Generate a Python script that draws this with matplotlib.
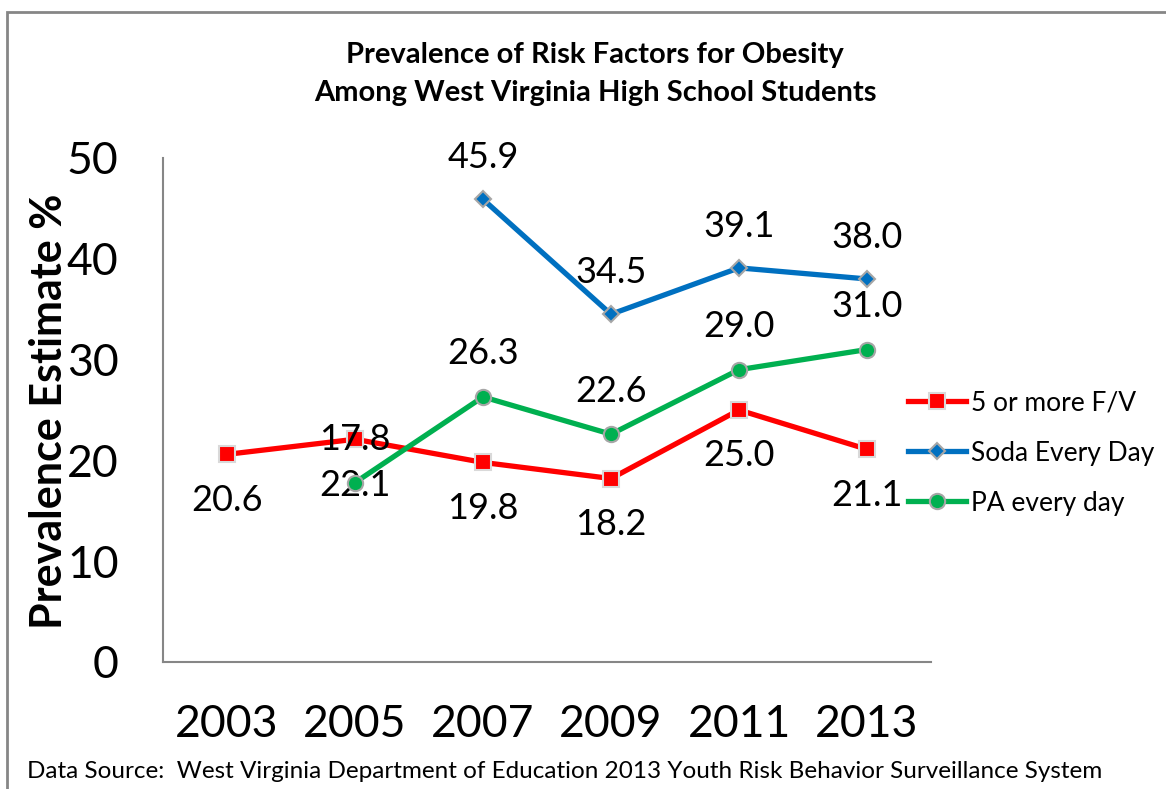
import matplotlib
matplotlib.use('Agg')
import matplotlib.pyplot as plt
import matplotlib.patches as patches

plt.rcParams['font.family'] = ['Lato', 'DejaVu Sans']

# data
years = ['2003', '2005', '2007', '2009', '2011', '2013']
fv = [20.6, 22.1, 19.8, 18.2, 25.0, 21.1]
soda = [None, None, 45.9, 34.5, 39.1, 38.0]
pa = [None, 17.8, 26.3, 22.6, 29.0, 31.0]

fig = plt.figure(figsize=(11.66, 7.89), dpi=100)
ax = fig.add_axes([163/1166, 1-662/789, (931-163)/1166, (662-158)/789])

x = list(range(len(years)))

def pts(vals):
    xs = [i for i, v in zip(x, vals) if v is not None]
    ys = [v for v in vals if v is not None]
    return xs, ys

xs, ys = pts(fv)
ax.plot(xs, ys, color='#FF0000', lw=3.8, marker='s', ms=11,
        markerfacecolor='#FF0000', markeredgecolor='#D9D9D9', mew=1.5,
        label='5 or more F/V', zorder=3)
for a, b in zip(xs, ys):
    ax.annotate('%.1f' % b, (a, b), xytext=(0, -33), textcoords='offset points',
                ha='center', va='center', fontsize=26)

xs, ys = pts(soda)
ax.plot(xs, ys, color='#0070C0', lw=3.8, marker='D', ms=8,
        markerfacecolor='#0070C0', markeredgecolor='#A6A6A6', mew=1.5,
        label='Soda Every Day', zorder=3)
for a, b in zip(xs, ys):
    ax.annotate('%.1f' % b, (a, b), xytext=(0, 30), textcoords='offset points',
                ha='center', va='center', fontsize=26)

xs, ys = pts(pa)
ax.plot(xs, ys, color='#00B050', lw=3.8, marker='o', ms=11,
        markerfacecolor='#00B050', markeredgecolor='#A6A6A6', mew=1.5,
        label='PA every day', zorder=3)
for a, b in zip(xs, ys):
    ax.annotate('%.1f' % b, (a, b), xytext=(0, 31), textcoords='offset points',
                ha='center', va='center', fontsize=26)

ax.set_xlim(-0.5, 5.5)
ax.set_ylim(0, 50)
ax.set_xticks(x)
ax.set_xticklabels(years, fontsize=32)
ax.set_yticks([0, 10, 20, 30, 40, 50])
ax.tick_params(axis='x', length=0, pad=30)
ax.tick_params(axis='y', length=0, labelsize=32, pad=32)
for s in ['top', 'right']:
    ax.spines[s].set_visible(False)
for s in ['left', 'bottom']:
    ax.spines[s].set_color('#868686')
    ax.spines[s].set_linewidth(1.5)

fig.text(49/1166, 1-411/789, 'Prevalence Estimate %', rotation=90, ha='center',
         va='center', fontsize=31, fontweight='bold')

fig.text(595/1166, 1-55/789, 'Prevalence of Risk Factors for Obesity',
         ha='center', va='center', fontsize=21, fontweight='bold')
fig.text(595/1166, 1-93/789, 'Among West Virginia High School Students',
         ha='center', va='center', fontsize=21, fontweight='bold')

fig.text(27/1166, 1-772/789,
         'Data Source:  West Virginia Department of Education 2013 Youth Risk Behavior Surveillance System',
         ha='left', va='center', fontsize=17.5)

fig.legend(loc='center left', bbox_to_anchor=(884/1166, 1-453/789), frameon=False,
           fontsize=19, handlelength=2.2, labelspacing=0.95, handletextpad=0.2)

frame = patches.Rectangle((7/1166, -0.1), 1.2, 1.1-12/789, transform=fig.transFigure,
                          fill=False, edgecolor='#868686', lw=2, clip_on=False)
fig.patches.append(frame)

fig.savefig('out.png', dpi=100)
